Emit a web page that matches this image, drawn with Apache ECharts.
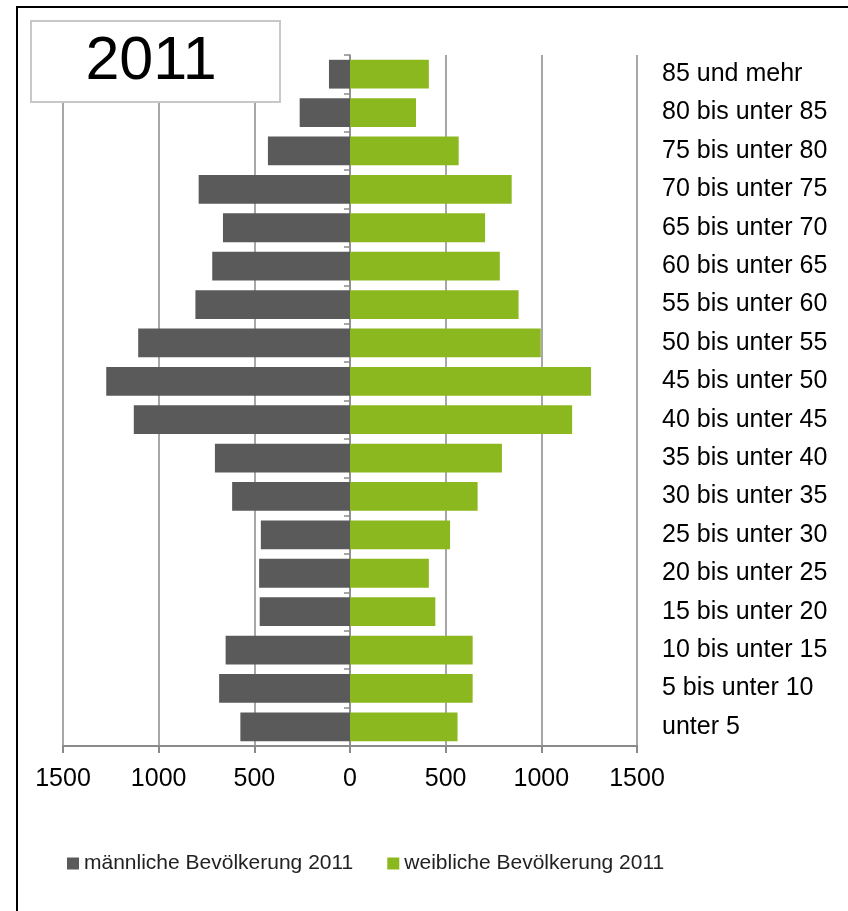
<!DOCTYPE html>
<html>
<head>
<meta charset="utf-8">
<script src="https://cdn.jsdelivr.net/npm/echarts@6/dist/echarts.min.js"></script>
<style>
html,body{margin:0;padding:0;background:#fff;}
#chart{width:848px;height:911px;}
</style>
</head>
<body>
<div id="chart"></div>
<script>
const categories = ["unter 5","5 bis unter 10","10 bis unter 15","15 bis unter 20","20 bis unter 25","25 bis unter 30","30 bis unter 35","35 bis unter 40","40 bis unter 45","45 bis unter 50","50 bis unter 55","55 bis unter 60","60 bis unter 65","65 bis unter 70","70 bis unter 75","75 bis unter 80","80 bis unter 85","85 und mehr"];
const maleValues = [573, 684, 650, 472, 475, 466, 616, 706, 1130, 1274, 1107, 808, 720, 664, 791, 429, 263, 110];
const femaleValues = [562, 641, 641, 446, 412, 523, 667, 794, 1161, 1260, 997, 881, 783, 706, 845, 568, 345, 412];
const maleName = "männliche Bevölkerung 2011";
const femaleName = "weibliche Bevölkerung 2011";
const titleText = "2011";

const FONT = "'Liberation Sans', Arial, sans-serif";
const chart = echarts.init(document.getElementById('chart'));
chart.setOption({
  backgroundColor: '#fff',
  animation: false,
  textStyle: { fontFamily: FONT },
  grid: { left: 63, right: 211, top: 55, bottom: 165, containLabel: false },
  legend: {
    left: 62, top: 848,
    icon: 'rect', itemWidth: 12, itemHeight: 12, itemGap: 34,
    textStyle: { fontSize: 21, color: '#222', fontFamily: FONT },
    data: [maleName, femaleName]
  },
  xAxis: {
    type: 'value', min: -1500, max: 1500, interval: 500,
    axisLine: { show: true, onZero: false, lineStyle: { color: '#8a8a8a', width: 2 } },
    axisTick: { show: true, length: 7, lineStyle: { color: '#8a8a8a', width: 2 } },
    splitLine: { show: true, lineStyle: { color: '#8a8a8a', width: 1.5 } },
    axisLabel: { formatter: v => String(Math.abs(v)), fontSize: 25, color: '#000', margin: 21, fontFamily: FONT }
  },
  yAxis: [
    {
      type: 'category', data: categories,
      axisLine: { show: true, onZero: true, lineStyle: { color: '#8a8a8a', width: 1.5 } },
      axisTick: { show: true, length: 6, lineStyle: { color: '#8a8a8a', width: 1.5 } },
      axisLabel: { show: false }
    },
    {
      type: 'category', data: categories, position: 'right',
      axisLine: { show: false, onZero: false },
      axisTick: { show: false },
      axisLabel: { show: true, margin: 25, align: 'left', fontSize: 25, color: '#000', fontFamily: FONT }
    }
  ],
  series: [
    {
      name: maleName, type: 'bar', yAxisIndex: 0,
      data: maleValues.map(v => -v),
      barCategoryGap: '25%', barGap: '-100%',
      itemStyle: { color: '#595a59' }
    },
    {
      name: femaleName, type: 'bar', yAxisIndex: 0,
      data: femaleValues,
      barCategoryGap: '25%', barGap: '-100%',
      itemStyle: { color: '#8cb81f' }
    }
  ],
  graphic: [
    {
      type: 'rect', z: 1, silent: true,
      shape: { x: 17, y: 7, width: 1000, height: 1000 },
      style: { fill: 'none', stroke: '#000', lineWidth: 2 }
    },
    {
      type: 'rect', z: 100, silent: true,
      shape: { x: 31, y: 21, width: 249, height: 81 },
      style: { fill: '#fff', stroke: '#c8c8c8', lineWidth: 2 }
    },
    {
      type: 'text', z: 101, silent: true,
      x: 151, y: 62,
      style: { text: titleText, textAlign: 'center', textVerticalAlign: 'middle', font: "61px 'Liberation Sans', Arial, sans-serif", fill: '#000' }
    }
  ]
});
</script>
</body>
</html>
